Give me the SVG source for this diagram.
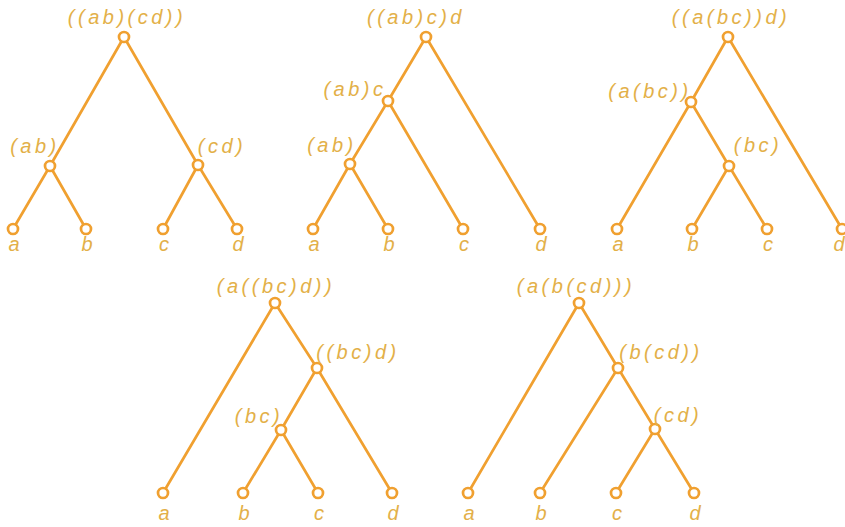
<svg xmlns="http://www.w3.org/2000/svg" width="845" height="527" viewBox="0 0 845 527">
<style>
.e{stroke:#F0A030;stroke-width:2.7;fill:none;stroke-linecap:round}
.n{fill:#fff;stroke:#F0A030;stroke-width:2.7}
.t{font-family:"Liberation Sans",Arial,sans-serif;font-style:italic;font-size:20px;fill:#E3B048;letter-spacing:3.5px;text-anchor:middle}
.l{letter-spacing:0}
</style>
<rect width="845" height="527" fill="#fff"/>
<g id="connectors">
<path class="e" d="M124 37L50 166M124 37L198 165M50 166L13 229M50 166L86 229M198 165L163 229M198 165L237 229"/>
<path class="e" d="M426 37L388 101M426 37L540 229M388 101L350 164M388 101L463 229M350 164L313 229M350 164L388 229"/>
<path class="e" d="M728 37L691 102M728 37L842 229M691 102L617 229M691 102L729 166M729 166L692 229M729 166L767 229"/>
<path class="e" d="M275 303L163 493M275 303L317 368M317 368L281 430M317 368L392 493M281 430L243 493M281 430L318 493"/>
<path class="e" d="M579 303L468 493M579 303L618 368M618 368L540 493M618 368L655 429M655 429L616 493M655 429L694 493"/>
</g>
<g id="tree1">
<circle class="n" cx="124" cy="37" r="5"/><text class="t" x="127" y="24">((ab)(cd))</text>
<circle class="n" cx="50" cy="166" r="5"/><text class="t" x="35" y="153">(ab)</text>
<circle class="n" cx="198" cy="165" r="5"/><text class="t" x="222" y="153">(cd)</text>
<circle class="n" cx="13" cy="229" r="5"/><text class="t l" x="14" y="251">a</text>
<circle class="n" cx="86" cy="229" r="5"/><text class="t l" x="87" y="251">b</text>
<circle class="n" cx="163" cy="229" r="5"/><text class="t l" x="164" y="251">c</text>
<circle class="n" cx="237" cy="229" r="5"/><text class="t l" x="238" y="251">d</text>
</g>
<g id="tree2">
<circle class="n" cx="426" cy="37" r="5"/><text class="t" x="416" y="24">((ab)c)d</text>
<circle class="n" cx="388" cy="101" r="5"/><text class="t" x="355" y="96">(ab)c</text>
<circle class="n" cx="350" cy="164" r="5"/><text class="t" x="332" y="152">(ab)</text>
<circle class="n" cx="313" cy="229" r="5"/><text class="t l" x="314" y="251">a</text>
<circle class="n" cx="388" cy="229" r="5"/><text class="t l" x="389" y="251">b</text>
<circle class="n" cx="463" cy="229" r="5"/><text class="t l" x="464" y="251">c</text>
<circle class="n" cx="540" cy="229" r="5"/><text class="t l" x="541" y="251">d</text>
</g>
<g id="tree3">
<circle class="n" cx="728" cy="37" r="5"/><text class="t" x="731" y="24">((a(bc))d)</text>
<circle class="n" cx="691" cy="102" r="5"/><text class="t" x="650" y="98">(a(bc))</text>
<circle class="n" cx="729" cy="166" r="5"/><text class="t" x="758" y="152">(bc)</text>
<circle class="n" cx="617" cy="229" r="5"/><text class="t l" x="618" y="251">a</text>
<circle class="n" cx="692" cy="229" r="5"/><text class="t l" x="693" y="251">b</text>
<circle class="n" cx="767" cy="229" r="5"/><text class="t l" x="768" y="251">c</text>
<circle class="n" cx="842" cy="229" r="5"/><text class="t l" x="839" y="251">d</text>
</g>
<g id="tree4">
<circle class="n" cx="275" cy="303" r="5"/><text class="t" x="276" y="293">(a((bc)d))</text>
<circle class="n" cx="317" cy="368" r="5"/><text class="t" x="358" y="359">((bc)d)</text>
<circle class="n" cx="281" cy="430" r="5"/><text class="t" x="259" y="423">(bc)</text>
<circle class="n" cx="163" cy="493" r="5"/><text class="t l" x="164" y="520">a</text>
<circle class="n" cx="243" cy="493" r="5"/><text class="t l" x="244" y="520">b</text>
<circle class="n" cx="318" cy="493" r="5"/><text class="t l" x="319" y="520">c</text>
<circle class="n" cx="392" cy="493" r="5"/><text class="t l" x="393" y="520">d</text>
</g>
<g id="tree5">
<circle class="n" cx="579" cy="303" r="5"/><text class="t" x="576" y="293">(a(b(cd)))</text>
<circle class="n" cx="618" cy="368" r="5"/><text class="t" x="661" y="359">(b(cd))</text>
<circle class="n" cx="655" cy="429" r="5"/><text class="t" x="678" y="422">(cd)</text>
<circle class="n" cx="468" cy="493" r="5"/><text class="t l" x="469" y="520">a</text>
<circle class="n" cx="540" cy="493" r="5"/><text class="t l" x="541" y="520">b</text>
<circle class="n" cx="616" cy="493" r="5"/><text class="t l" x="617" y="520">c</text>
<circle class="n" cx="694" cy="493" r="5"/><text class="t l" x="695" y="520">d</text>
</g>
</svg>
